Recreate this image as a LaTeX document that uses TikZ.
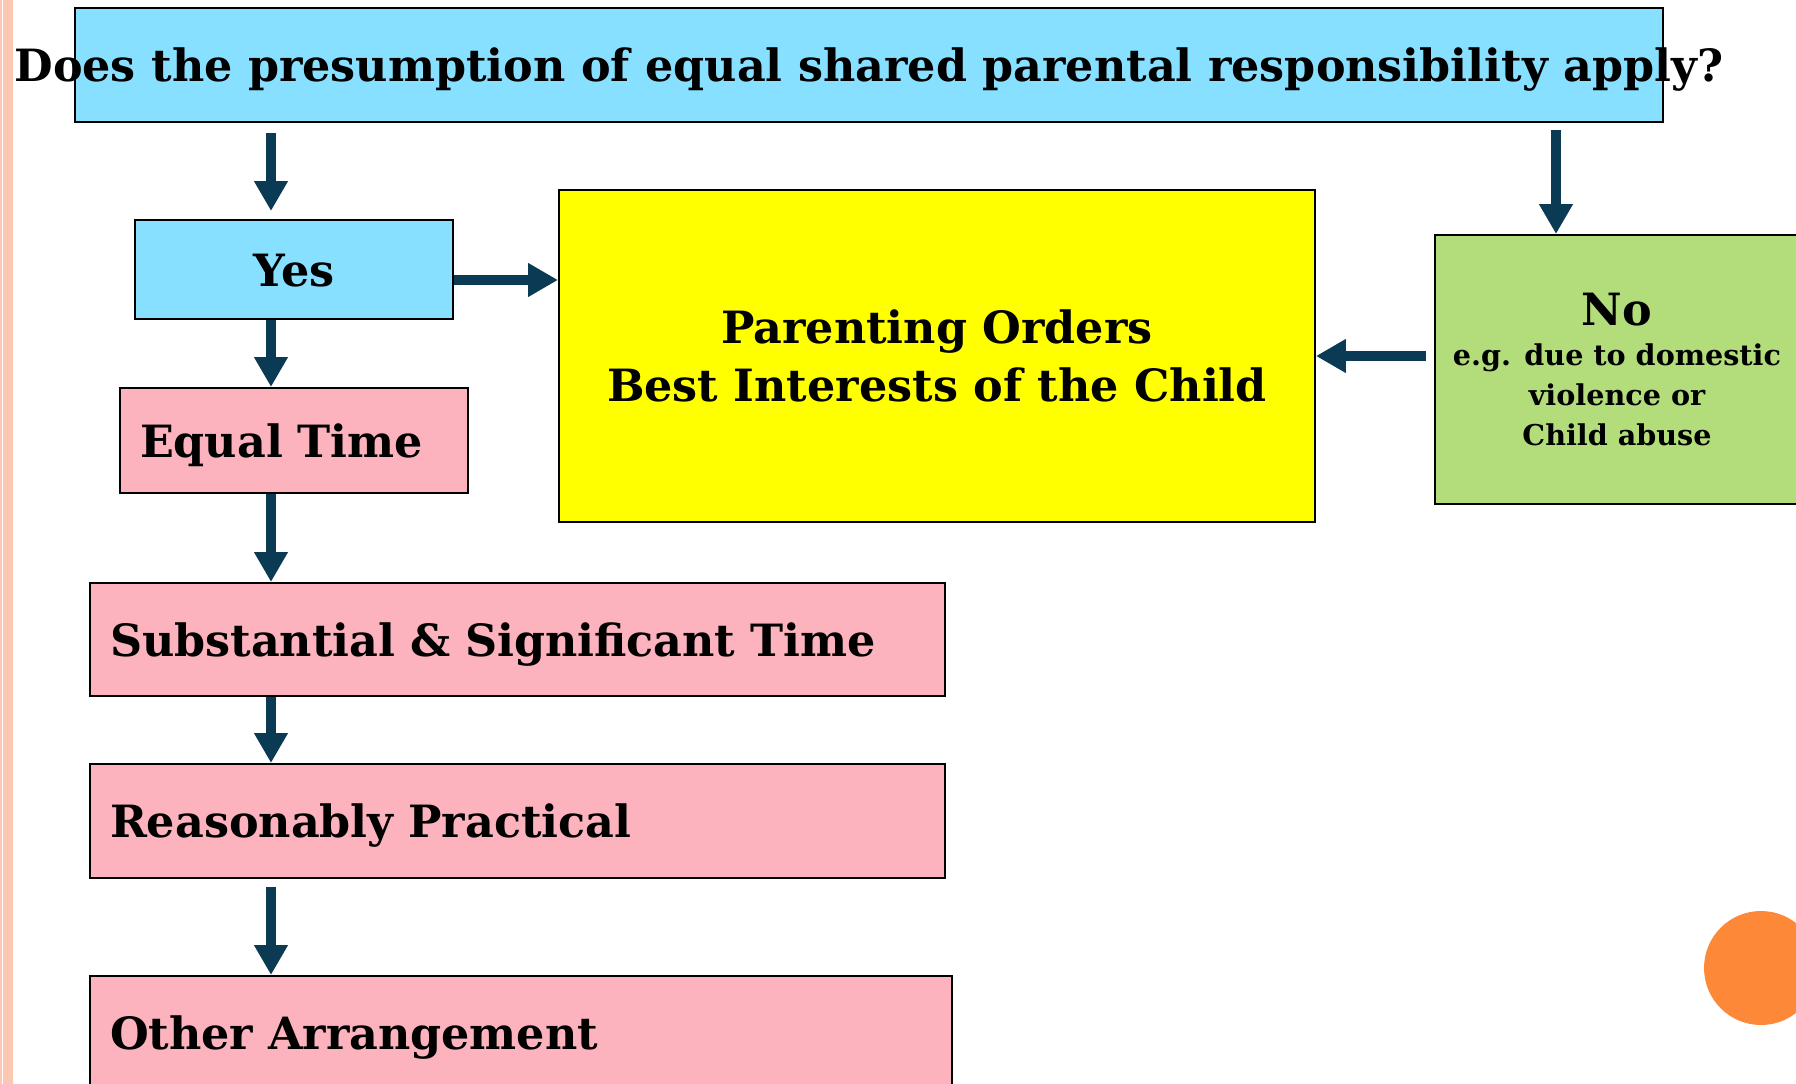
\documentclass[tikz,border=0pt]{standalone}
\usepackage{fontspec}
\setmainfont{DejaVu Serif}
\usetikzlibrary{arrows.meta}

\definecolor{qblue}{RGB}{135,224,255}
\definecolor{pinkbox}{RGB}{252,179,190}
\definecolor{greenbox}{RGB}{179,221,122}
\definecolor{yellowbox}{RGB}{255,255,0}
\definecolor{arrowblue}{RGB}{11,58,85}
\definecolor{stripe}{RGB}{252,200,180}
\definecolor{orangedot}{RGB}{253,137,56}

\def\pxu{0.02cm}
\def\nosize{\fontsize{16.3}{19}\selectfont}

\begin{document}
\begin{tikzpicture}[x=\pxu, y=-\pxu, font=\bfseries\fontsize{25.3}{33}\selectfont]
    \tikzstyle{box}=[draw=black, line width=1.2pt, inner sep=0pt, anchor=north west]
    \tikzstyle{stepbox}=[box, fill=pinkbox, text height=0.66cm, text depth=0pt, align=left, inner xsep=0.4cm]
    \tikzstyle{link}=[draw=arrowblue, line width=0.2cm, -{Triangle[width=0.64cm,length=0.6cm]}]

    \useasboundingbox (0,0) rectangle (1796,1084);

    % page margin
    \fill[stripe] (0.5,0) rectangle (1.7,1084);
    \fill[stripe] (3,0) rectangle (12.5,1084);
    \fill[orangedot] (1761,968) circle (1.14cm);

    \coordinate (colA) at (271,0);
    \coordinate (colB) at (1556,0);
    \coordinate (rowA) at (0,280);
    \coordinate (rowB) at (0,356);

    \node[box, fill=qblue, minimum width=31.76cm, minimum height=2.28cm, text height=0.66cm, text depth=0pt] (Q) at (74,7)
        {\makebox[0pt]{Does the presumption of equal shared parental responsibility apply?}};

    \node[box, fill=qblue, minimum width=6.36cm, minimum height=1.98cm, text height=0.66cm, text depth=0pt] (Yes) at (134,219) {Yes};

    \node[box, fill=yellowbox, minimum width=15.12cm, minimum height=6.64cm, align=center] (PO) at (558,189)
        {Parenting Orders\\Best Interests of the Child};

    \node[box, fill=greenbox, minimum width=7.28cm, minimum height=5.38cm, align=center,
          font=\bfseries\fontsize{25.3}{22.6}\selectfont] (No) at (1434,234)
        {No\\{\nosize e.g. due to domestic}\\{\nosize violence or}\\{\nosize Child abuse}};

    \foreach \name / \x / \y / \w / \h / \tw / \txt in {
        Eq/119/387/6.96/2.1/6.16/Equal Time,
        Sub/89/582/17.1/2.26/16.3/Substantial \& Significant Time,
        RP/89/763/17.1/2.28/16.3/Reasonably Practical,
        OA/89/975/17.24/2.26/16.44/Other Arrangement}
        \node[stepbox, minimum width=\w cm, minimum height=\h cm, text width=\tw cm] (\name) at (\x,\y) {\txt};

    % connectors
    \draw[link, shorten <=0.2cm, shorten >=0.16cm] (Q.south -| colA) -- (Yes.north -| colA);
    \foreach \source / \dest in {Yes/Eq, Eq/Sub, Sub/RP}
        \draw[link] (\source.south -| colA) -- (\dest.north -| colA);
    \draw[link, shorten <=0.16cm] (RP.south -| colA) -- (OA.north -| colA);

    \draw[link] (Yes.east |- rowA) -- (PO.west |- rowA);
    \draw[link, shorten <=0.14cm] (Q.south -| colB) -- (No.north -| colB);
    \draw[link, shorten <=0.16cm] (No.west |- rowB) -- (PO.east |- rowB);
\end{tikzpicture}
\end{document}
